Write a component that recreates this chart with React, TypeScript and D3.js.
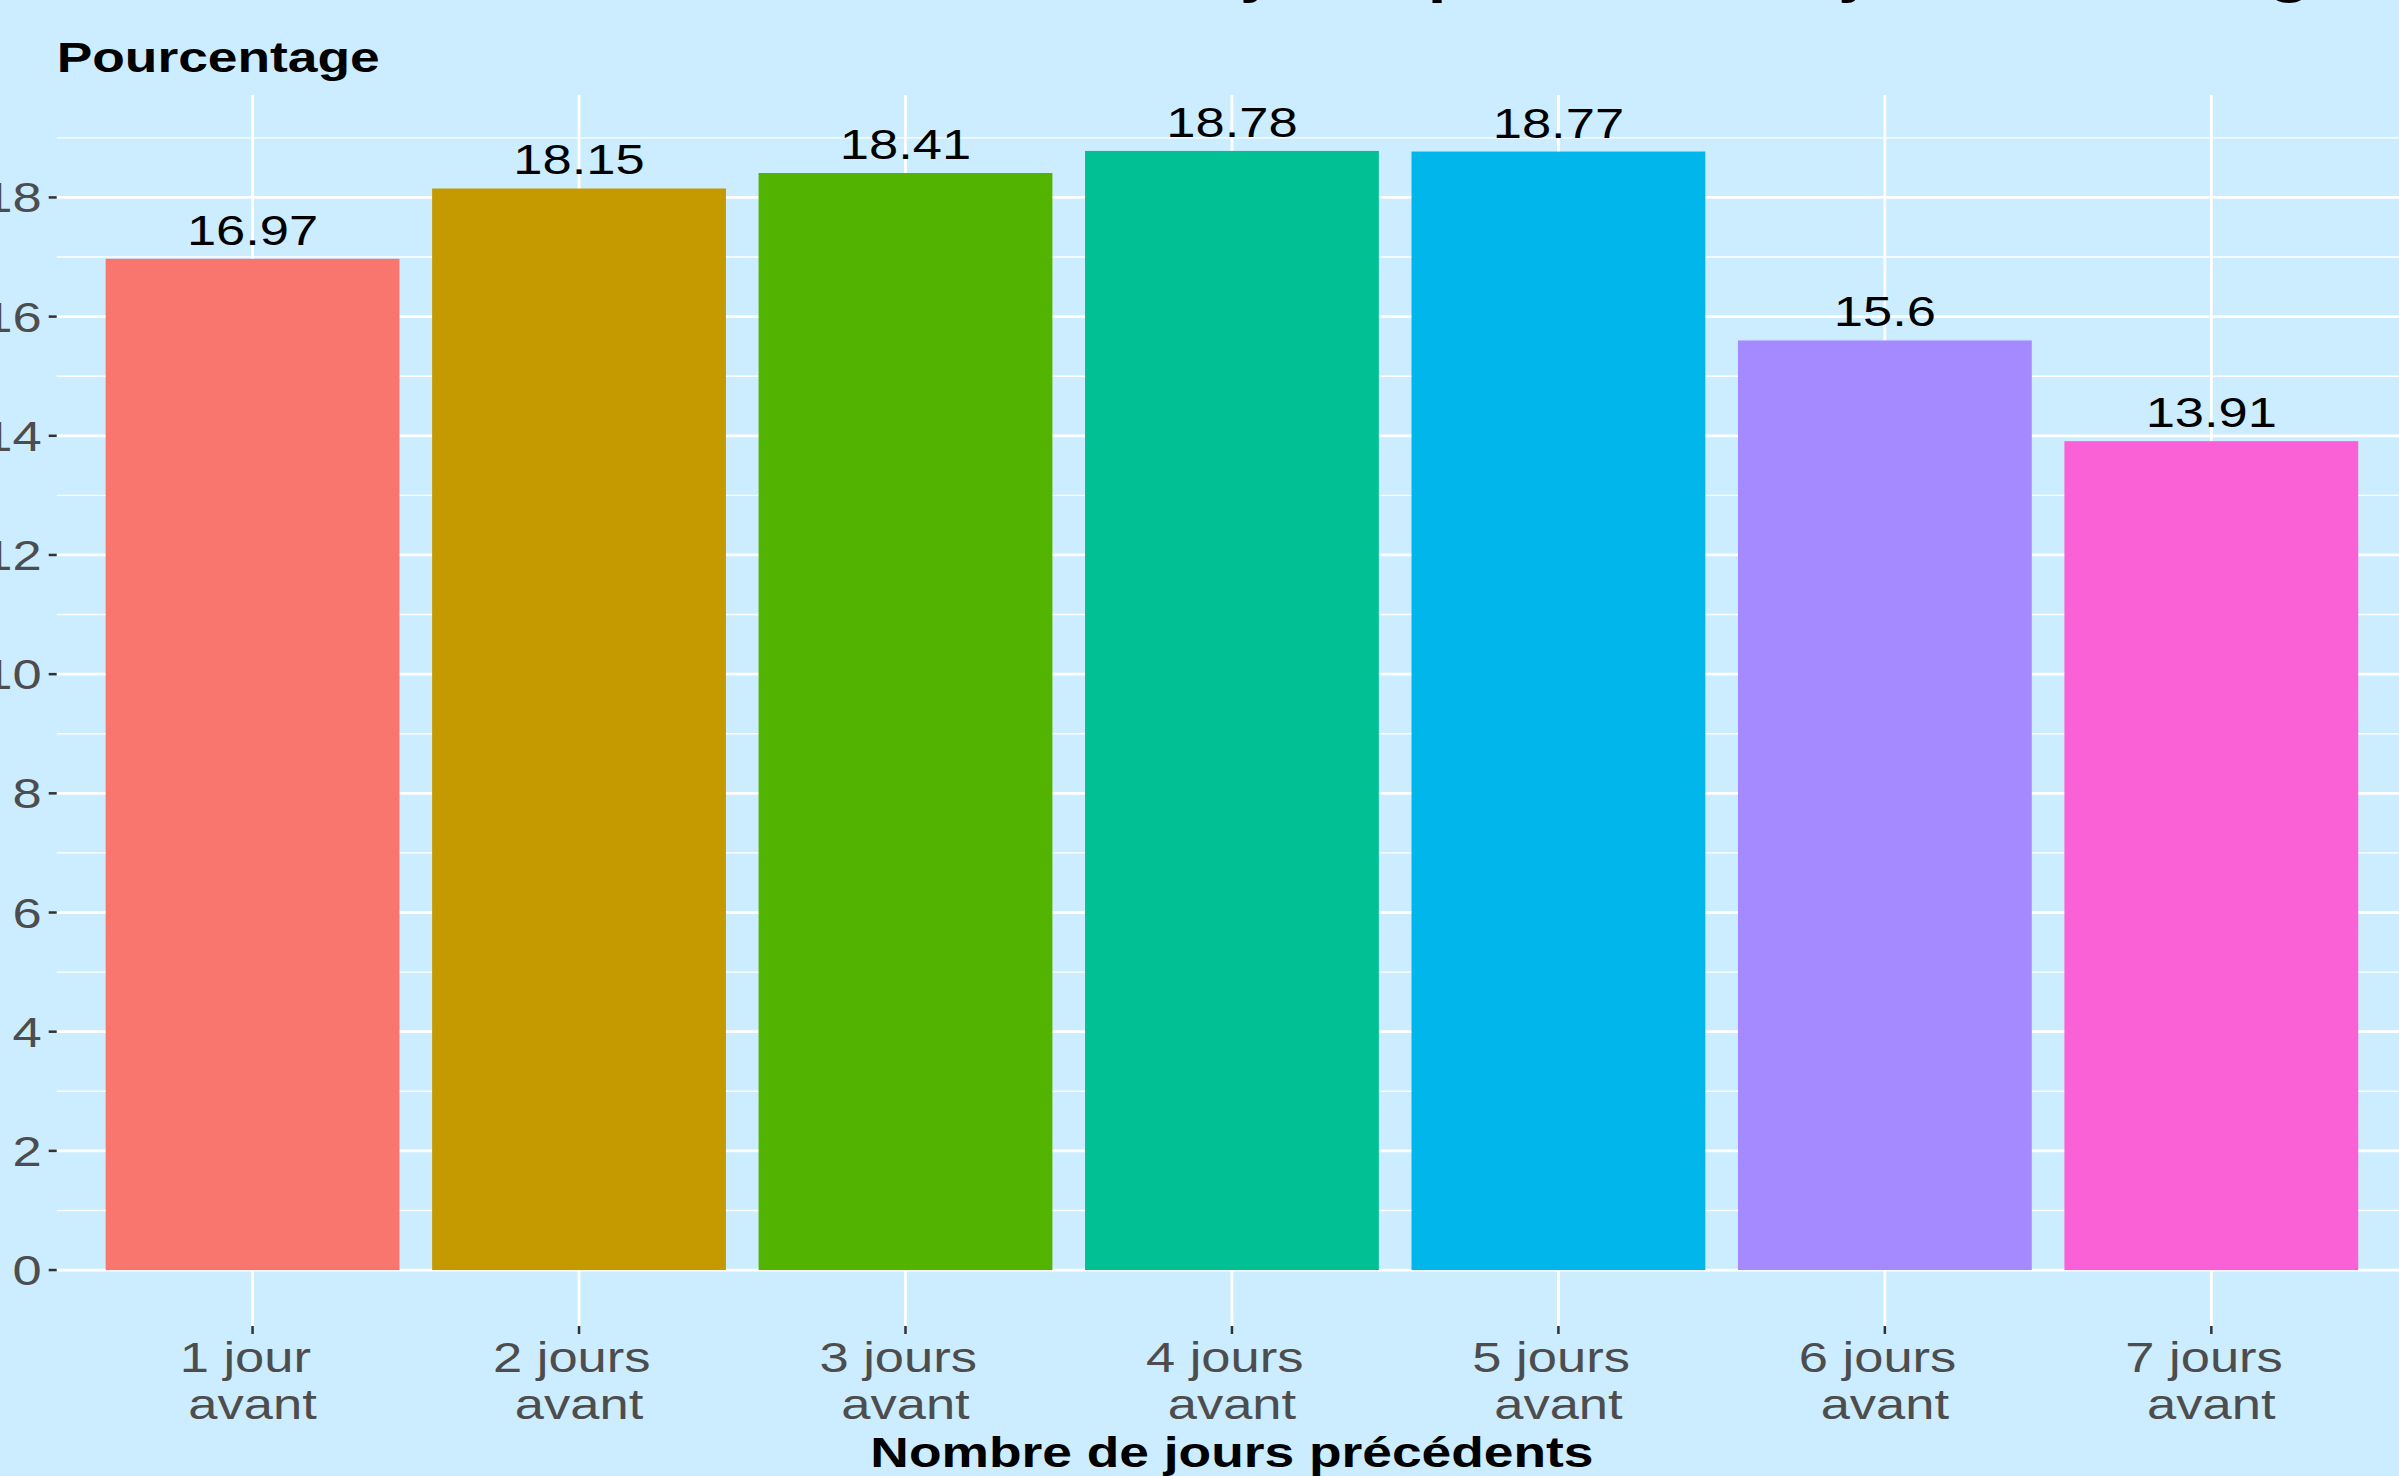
import * as d3 from "d3";

// chart size (the picture is cropped on the top and right edges)
const width = 2399,
	height = 1476;

const categories = ["1 jour ", "2 jours ", "3 jours ", "4 jours ", "5 jours ", "6 jours ", "7 jours "];
const values = [16.97, 18.15, 18.41, 18.78, 18.77, 15.6, 13.91];
const colors = ["#F8766D", "#C49A00", "#53B400", "#00C094", "#00B6EB", "#A58AFF", "#FB61D7"];
const yTicks = [0, 2, 4, 6, 8, 10, 12, 14, 16, 18];
const yMinor = [1, 3, 5, 7, 9, 11, 13, 15, 17, 19];

const title = "Taux de réservation selon le nombre de jours précédant le jour du mariage";
const yTitle = "Pourcentage";
const xTitle = "Nombre de jours précédents";

const bg = "#CCECFF";
const font = "'Liberation Sans', Arial, Helvetica, sans-serif";
const sx = 1.25; // the source image is stretched horizontally

// panel box
const panel = { left: 56.7, right: 2407.2, top: 95, bottom: 1326 };

const Txt = ({ x, y, size, anchor = "middle", bold = false, fill = "#000", scale = sx, children }) => (
	<text
		transform={`translate(${x},${y}) scale(${scale},1)`}
		textAnchor={anchor}
		fontFamily={font}
		fontSize={size}
		fontWeight={bold ? "bold" : "normal"}
		fill={fill}
		style={{ whiteSpace: "pre" }}
	>
		{children}
	</text>
);

export default function App() {
	const yMax = d3.max(values);
	const pad = yMax * 0.05;
	const y = d3.scaleLinear().domain([-pad, yMax + pad]).range([panel.bottom, panel.top]);
	const x = d3.scaleBand().domain(categories).range([panel.left, panel.right]).paddingInner(0.1).paddingOuter(0.15);
	const bw = x.bandwidth();

	return (
		<svg width={width} height={height} style={{ position: "fixed", left: 0, top: 0, background: bg }}>
			<rect x={0} y={0} width={width} height={height} fill={bg} />

			{/* grid */}
			{yMinor.map((t) => (
				<line key={"m" + t} x1={panel.left} x2={panel.right} y1={y(t)} y2={y(t)} stroke="#fff" strokeWidth={1.4} />
			))}
			{yTicks.map((t) => (
				<line key={"g" + t} x1={panel.left} x2={panel.right} y1={y(t)} y2={y(t)} stroke="#fff" strokeWidth={2.8} />
			))}
			{categories.map((c) => (
				<line
					key={"v" + c}
					x1={x(c) + bw / 2}
					x2={x(c) + bw / 2}
					y1={panel.top}
					y2={panel.bottom}
					stroke="#fff"
					strokeWidth={2.8}
				/>
			))}

			{/* bars */}
			{values.map((v, i) => (
				<rect key={i} x={x(categories[i])} y={y(v)} width={bw} height={y(0) - y(v)} fill={colors[i]} />
			))}

			{/* value labels */}
			{values.map((v, i) => (
				<Txt key={"l" + i} x={x(categories[i]) + bw / 2} y={y(v) - 14} size={42}>
					{String(v)}
				</Txt>
			))}

			{/* y axis */}
			{yTicks.map((t) => (
				<g key={"yt" + t}>
					<line x1={panel.left - 8} x2={panel.left} y1={y(t)} y2={y(t)} stroke="#333" strokeWidth={2.5} />
					<Txt x={panel.left - 15} y={y(t) + 15} size={42} anchor="end" fill="#4D4D4D">
						{t}
					</Txt>
				</g>
			))}

			{/* x axis */}
			{categories.map((c) => (
				<g key={"xt" + c}>
					<line
						x1={x(c) + bw / 2}
						x2={x(c) + bw / 2}
						y1={panel.bottom}
						y2={panel.bottom + 8}
						stroke="#333"
						strokeWidth={2.5}
					/>
					<Txt x={x(c) + bw / 2} y={1372} size={42} fill="#4D4D4D">
						{c}
					</Txt>
					<Txt x={x(c) + bw / 2} y={1419} size={42} fill="#4D4D4D">
						avant
					</Txt>
				</g>
			))}

			{/* titles */}
			<Txt x={(panel.left + panel.right) / 2} y={1467} size={42} bold scale={1.27}>
				{xTitle}
			</Txt>
			<Txt x={panel.left} y={72} size={42} bold anchor="start" scale={1.27}>
				{yTitle}
			</Txt>
			<Txt x={-37} y={-8} size={53} bold anchor="start" scale={1.27}>
				{title}
			</Txt>
		</svg>
	);
}
